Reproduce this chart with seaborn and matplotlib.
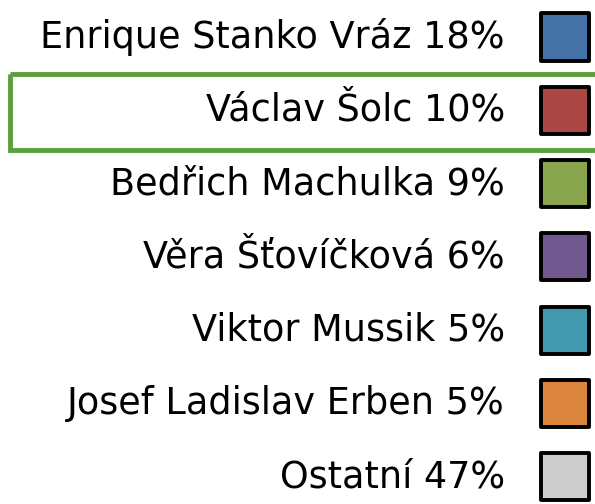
import pandas as pd
import matplotlib.pyplot as plt
import seaborn as sns
from matplotlib.patches import Rectangle

names = ["Enrique Stanko Vráz", "Václav Šolc", "Bedřich Machulka", "Věra Šťovíčková",
         "Viktor Mussik", "Josef Ladislav Erben", "Ostatní"]
shares = [18, 10, 9, 6, 5, 5, 47]
colors = ["#4572A7", "#AA4643", "#89A54E", "#71588F", "#4198AF", "#DB843D", "#CCCCCC"]
selected = "Václav Šolc"

df = pd.DataFrame({"name": names, "share": shares})
df["label"] = df["name"] + " " + df["share"].astype(str) + "%"
df["row"] = range(len(df))
df["x"] = 565

sns.set_style("white")
plt.rcParams['font.family'] = ['DejaVu Sans']

fig = plt.figure(figsize=(5.95, 5.04), dpi=100)
ax = fig.add_axes([0, 0, 1, 1])

sns.scatterplot(data=df, x="x", y="row", hue="name", palette=colors, marker="s",
                s=1150, edgecolor="black", linewidth=2.8, legend=False, ax=ax, zorder=3)

for _, r in df.iterrows():
    ax.text(505, r["row"], r["label"], ha="right", va="center", fontsize=26.4, color="black")

sel = names.index(selected)
ax.add_patch(Rectangle((10, sel - 0.495), 600, 1.035, fill=False,
                       edgecolor="#5AA03E", linewidth=3.5, clip_on=True))

ax.set_xlim(0, 595)
ax.set_ylim(6.37, -0.505)
ax.axis("off")

plt.savefig("out.png", dpi=100)
